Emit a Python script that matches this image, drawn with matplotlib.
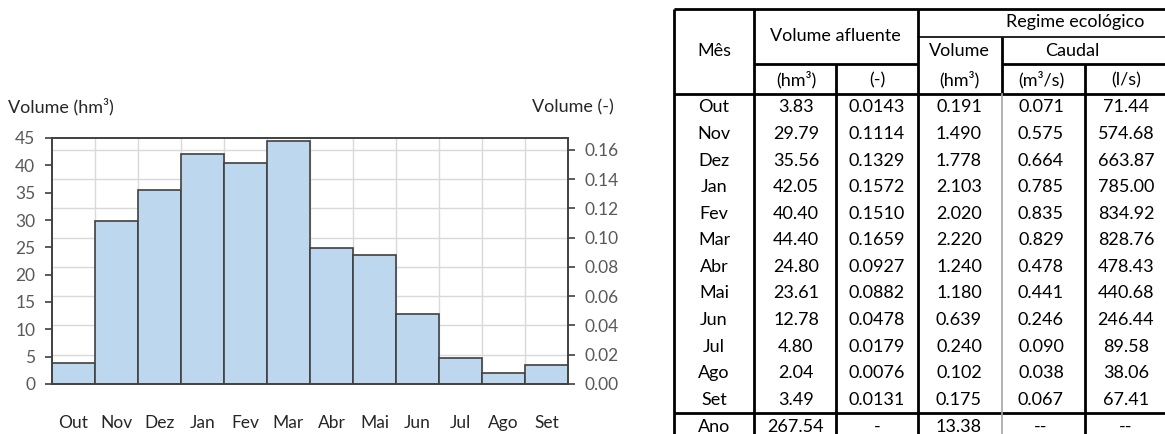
import numpy as np
import matplotlib.pyplot as plt

plt.rcParams['font.family'] = ['Lato', 'DejaVu Sans']

# data
meses = ["Out", "Nov", "Dez", "Jan", "Fev", "Mar", "Abr", "Mai", "Jun", "Jul", "Ago", "Set"]
vol_hm3 = [3.83, 29.79, 35.56, 42.05, 40.40, 44.40, 24.80, 23.61, 12.78, 4.80, 2.04, 3.49]
vol_rel = [0.0143, 0.1114, 0.1329, 0.1572, 0.1510, 0.1659, 0.0927, 0.0882, 0.0478, 0.0179, 0.0076, 0.0131]
eco_vol = [0.191, 1.490, 1.778, 2.103, 2.020, 2.220, 1.240, 1.180, 0.639, 0.240, 0.102, 0.175]
eco_m3s = [0.071, 0.575, 0.664, 0.785, 0.835, 0.829, 0.478, 0.441, 0.246, 0.090, 0.038, 0.067]
eco_ls = [71.44, 574.68, 663.87, 785.00, 834.92, 828.76, 478.43, 440.68, 246.44, 89.58, 38.06, 67.41]
ano_row = ["Ano", "267.54", "-", "13.38", "--", "--"]
ano_total = 267.54

W, H = 1165, 434
fig = plt.figure(figsize=(W / 100, H / 100), dpi=100)

# ---- bar chart ----
ax = fig.add_axes([52 / W, 50 / H, 516 / W, 246 / H])
x = np.arange(len(meses))
ax.bar(x, vol_hm3, width=1.0, color="#BDD7EE", edgecolor="#404040", lw=1.2, zorder=3)
ax.set_xlim(-0.5, len(meses) - 0.5)
ax.set_ylim(0, 45)
ax.set_yticks(np.arange(0, 46, 5))
ax.set_xticks(x)
ax.set_xticklabels(meses)
ax.tick_params(axis="x", length=0, pad=22, labelsize=12.5, labelcolor="#262626")
ax.tick_params(axis="y", length=5, width=1.2, color="#404040", labelsize=12.5,
               labelcolor="#595959", pad=7)
for s in ax.spines.values():
    s.set_color("#404040")
    s.set_linewidth(1.2)

ax2 = ax.twinx()
ax2.set_ylim(0, 45 / ano_total)
rticks = np.arange(0, 0.161, 0.02)
ax2.set_yticks(rticks)
ax2.set_yticklabels(["%.2f" % t for t in rticks])
ax2.tick_params(axis="y", length=5, width=1.2, color="#404040", labelsize=12.5,
                labelcolor="#595959", pad=7)
for s in ax2.spines.values():
    s.set_color("#404040")
    s.set_linewidth(1.2)

# gridlines behind the bars
for t in rticks[1:]:
    ax.axhline(t * ano_total, color="#D9D9D9", lw=1.0, zorder=0)
for i in x[:-1]:
    ax.axvline(i + 0.5, color="#D9D9D9", lw=1.0, zorder=0)

fig.text(8 / W, 1 - 107 / H, "Volume (hm³)", fontsize=13, color="#262626", va="center", ha="left")
fig.text(573 / W, 1 - 107 / H, "Volume (-)", fontsize=13, color="#262626", va="center", ha="center")

# ---- table ----
tx = fig.add_axes([0, 0, 1, 1])
tx.set_xlim(0, W)
tx.set_ylim(H, 0)
tx.axis("off")

thick = dict(color="black", lw=2.0, solid_capstyle="butt")
thin = dict(color="black", lw=1.2)
gray = dict(color="#A6A6A6", lw=1.2)

c0, c1, c2, c3, c4, c5 = 674, 754, 836, 918, 1002, 1085
r0, r1, r2, r3 = 8.5, 37, 63.5, 94
row_h = 26.6
r_ano = r3 + row_h * len(meses)

tx.plot([c0, W], [r0, r0], **thick)
tx.plot([c3, W], [r1, r1], **thin)
tx.plot([c1, c3], [r2, r2], **thick)
tx.plot([c4, W], [r2, r2], **thick)
tx.plot([c0, W], [r3, r3], **thick)
tx.plot([c0, W], [r_ano, r_ano], **thick)
tx.plot([c0, c0], [r0, H], **thick)
tx.plot([c1, c1], [r0, H], **thick)
tx.plot([c2, c2], [r2, H], **thick)
tx.plot([c3, c3], [r0, H], **thick)
tx.plot([c4, c4], [r1, r3], **thick)
tx.plot([c4, c4], [r3, H], **gray)
tx.plot([c5, c5], [r2, H], **thick)

fs = 13
xc = [714, 796, 877, 959, 1041, 1126]
tx.text(xc[0], 51, "Mês", ha="center", va="center", fontsize=fs)
tx.text(835, 36, "Volume afluente", ha="center", va="center", fontsize=fs)
tx.text(1075, 22, "Regime ecológico", ha="center", va="center", fontsize=fs)
tx.text(xc[3], 51, "Volume", ha="center", va="center", fontsize=fs)
tx.text(1072, 51, "Caudal", ha="center", va="center", fontsize=fs)
units = ["(hm³)", "(-)", "(hm³)", "(m³/s)", "(l/s)"]
for u, xx in zip(units, xc[1:]):
    tx.text(xx, 80, u, ha="center", va="center", fontsize=fs)

for i, m in enumerate(meses):
    y = r3 + row_h * (i + 0.5)
    vals = [m, "%.2f" % vol_hm3[i], "%.4f" % vol_rel[i], "%.3f" % eco_vol[i],
            "%.3f" % eco_m3s[i], "%.2f" % eco_ls[i]]
    for v, xx in zip(vals, xc):
        tx.text(xx, y, v, ha="center", va="center", fontsize=fs)

for v, xx in zip(ano_row, xc):
    tx.text(xx, r_ano + 13.5, v, ha="center", va="center", fontsize=fs)

fig.savefig("out.png", dpi=100)
